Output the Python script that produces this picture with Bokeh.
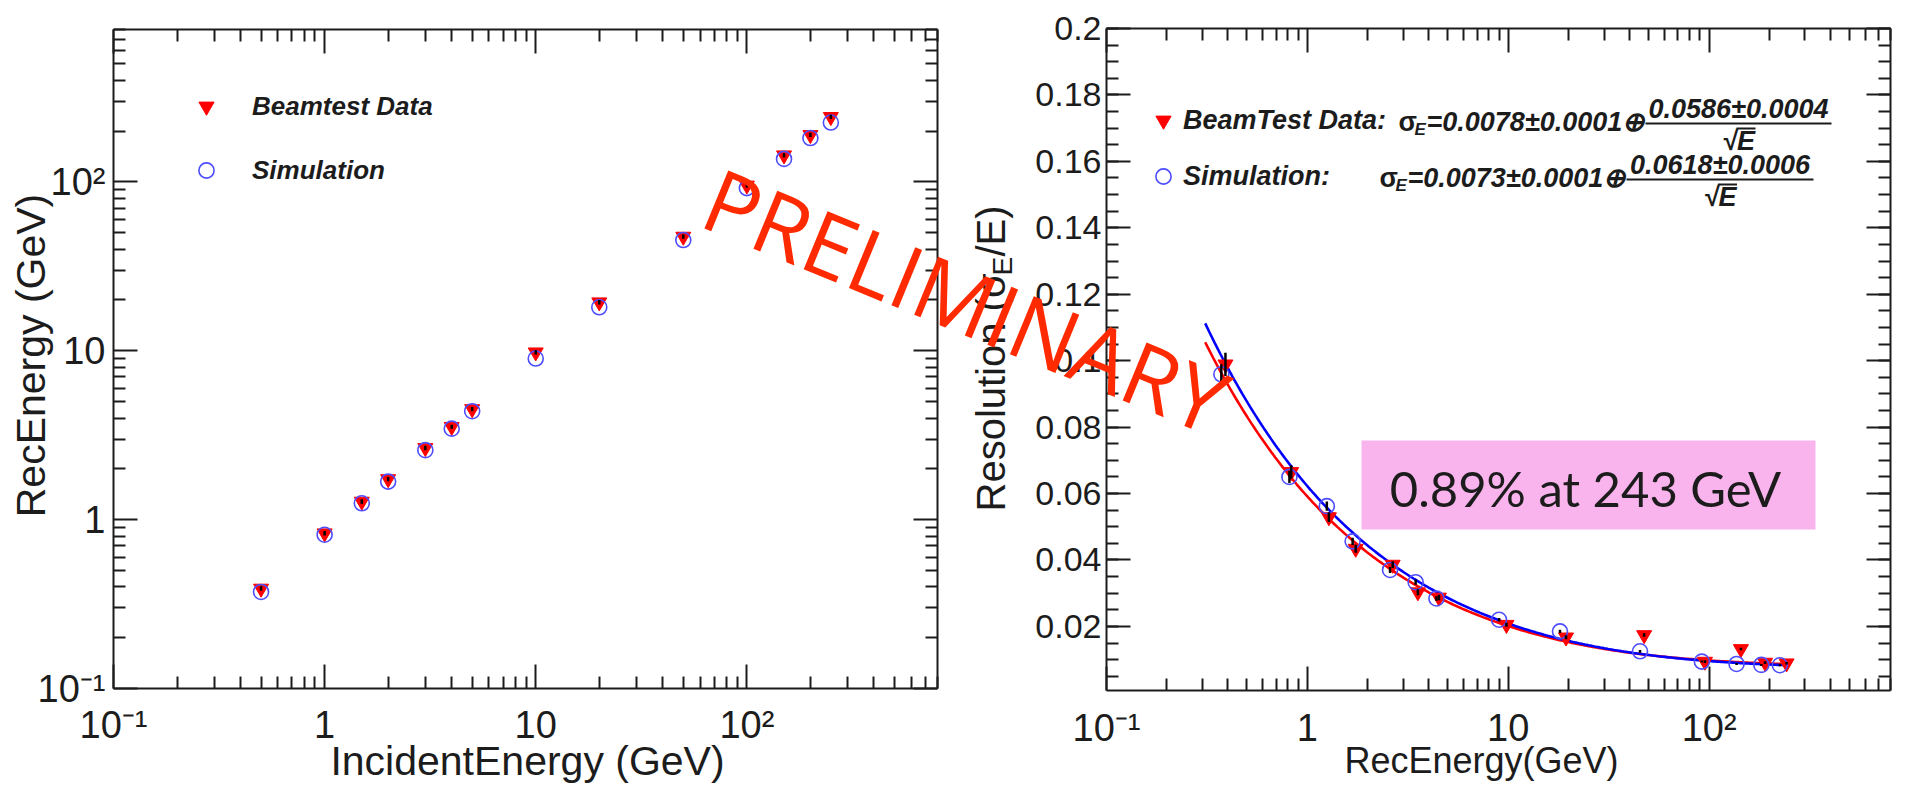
import json
import math

import numpy as np
from bokeh.embed import file_html
from bokeh.models import (BoxAnnotation, CustomJSTickFormatter, FixedTicker, Label,
                          Legend, LegendItem, LinearAxis, LogAxis, Range1d)
from bokeh.plotting import figure
from bokeh.resources import INLINE

# ---------------------------------------------------------------- measurements
incident_energy = [0.5, 1, 1.5, 2, 3, 4, 5, 10, 20, 50, 100, 150, 200, 250]

rec_energy_data = [0.391, 0.831, 1.28, 1.74, 2.66, 3.55, 4.52, 9.8, 19.4, 47.5, 95.4, 144, 190, 243]
rec_energy_data_err = [0.012, 0.025, 0.04, 0.05, 0.08, 0.1, 0.13, 0.3, 0.6, 1.4, 2.8, 4.2, 5.6, 7.0]
rec_energy_sim = [0.373, 0.814, 1.25, 1.68, 2.58, 3.46, 4.39, 9.0, 18.1, 45.3, 92, 137, 182, 225]

resolution_data = [0.0989, 0.0665, 0.0529, 0.0434, 0.0386, 0.0303, 0.0287,
                   0.0205, 0.0167, 0.0174, 0.0094, 0.0132, 0.0091, 0.0089]
resolution_data_err = [0.0035, 0.0020, 0.0015, 0.0012, 0.0010, 0.0009, 0.0008,
                       0.0006, 0.0006, 0.0005, 0.0004, 0.0004, 0.0004, 0.0004]
resolution_sim = [0.0959, 0.0650, 0.0562, 0.0456, 0.0370, 0.0333, 0.0284,
                  0.0220, 0.0185, 0.0125, 0.0094, 0.0087, 0.0084, 0.0083]
resolution_sim_err = [0.0030, 0.0018, 0.0014, 0.0011, 0.0009, 0.0008, 0.0007,
                      0.0005, 0.0005, 0.0004, 0.0003, 0.0003, 0.0003, 0.0003]

# stochastic (+) constant term fits: sigma/E = a (+) b / sqrt(E)
fit_data = {"a": 0.0078, "a_err": 0.0001, "b": 0.0586, "b_err": 0.0004}
fit_sim = {"a": 0.0073, "a_err": 0.0001, "b": 0.0618, "b_err": 0.0006}
fit_energy_span = (0.31, 245)

decade_labels = {"-1": "10\u207b\u00b9", "0": "1", "1": "10", "2": "10\u00b2"}
log_major = [0.1, 1, 10, 100]
log_minor = [m * 10.0 ** k for k in (-1, 0, 1, 2) for m in range(2, 10)]
res_major = [round(0.02 * i, 3) for i in range(1, 11)]
res_minor = [round(0.005 * i, 4) for i in range(1, 41)]

# ---------------------------------------------------------------- styling
INK = "#1c1c1c"
FONT = "Liberation Sans"
RED = "#ff0000"
BLUE = "#0000ff"
SIM_BLUE = "#4d4dff"
STAMP_RED = "#ff2a00"
H = 787
W_LEFT, W_RIGHT = 965, 940

log_fmt = CustomJSTickFormatter(code=(
    "const names = " + json.dumps(decade_labels) + ";"
    "const k = Math.round(Math.log10(tick)); return names[String(k)] || '';"))
res_fmt = CustomJSTickFormatter(code="return String(parseFloat(tick.toFixed(3)));")
blank_fmt = CustomJSTickFormatter(code="return '';")


def style_axis(ax, size=None, standoff=0):
    ax.axis_line_color = INK
    ax.axis_line_width = 2
    ax.major_tick_in = 24
    ax.major_tick_out = 0
    ax.minor_tick_in = 12
    ax.minor_tick_out = 0
    ax.major_tick_line_color = INK
    ax.minor_tick_line_color = INK
    ax.major_tick_line_width = 2
    ax.minor_tick_line_width = 2
    ax.major_label_text_font = FONT
    ax.major_label_text_color = INK
    if size is None:
        ax.formatter = blank_fmt
        ax.major_label_text_font_size = "1px"
        ax.major_label_standoff = 0
    else:
        ax.major_label_text_font_size = f"{size}px"
        ax.major_label_standoff = standoff


def base_figure(width, borders, y_type, y_range, styles=None):
    p = figure(width=width, height=H, x_axis_type="log", y_axis_type=y_type,
               x_range=Range1d(0.1, 800), y_range=y_range,
               output_backend="svg", toolbar_location=None,
               min_border_left=borders[0], min_border_right=borders[1],
               min_border_top=borders[2], min_border_bottom=borders[3],
               styles=styles or {})
    p.grid.visible = False
    p.outline_line_color = None
    p.background_fill_color = "white"
    p.border_fill_color = "white"
    return p


def legend(renderers, labels, location, spacing, standoff, size):
    return Legend(items=[LegendItem(label=t, renderers=[r]) for t, r in zip(labels, renderers)],
                  location=location, orientation="vertical",
                  glyph_width=38, glyph_height=38, label_height=38, spacing=spacing,
                  padding=0, margin=0, label_standoff=standoff,
                  border_line_color=None, background_fill_alpha=0,
                  label_text_font=FONT, label_text_font_style="bold italic",
                  label_text_font_size=f"{size}px", label_text_color=INK)


# ================================================================ left panel
p1 = base_figure(W_LEFT, (113, 28, 29, 99), "log", Range1d(0.1, 800))
p1.xaxis.ticker = FixedTicker(ticks=log_major, minor_ticks=log_minor)
p1.yaxis.ticker = FixedTicker(ticks=log_major, minor_ticks=log_minor)
p1.xaxis.formatter = log_fmt
p1.yaxis.formatter = log_fmt
style_axis(p1.xaxis[0], 38, 15)
style_axis(p1.yaxis[0], 38, 8)
for side in ("above", "right"):
    ax = LogAxis(ticker=FixedTicker(ticks=log_major, minor_ticks=log_minor))
    style_axis(ax)
    p1.add_layout(ax, side)

tri1 = p1.scatter(incident_energy, rec_energy_data, marker="inverted_triangle", size=15,
                  fill_color=RED, line_color=RED, line_width=1)
circ1 = p1.scatter(incident_energy, rec_energy_sim, marker="circle", size=15,
                   fill_color=None, line_color=SIM_BLUE, line_width=1.6)
p1.segment(x0=incident_energy,
           y0=[v - e for v, e in zip(rec_energy_data, rec_energy_data_err)],
           x1=incident_energy,
           y1=[v + e for v, e in zip(rec_energy_data, rec_energy_data_err)],
           line_color="black", line_width=2.5)
p1.add_layout(legend([tri1, circ1], ["Beamtest Data", "Simulation"], (74, 499), 26, 27, 26))

# ================================================================ right panel
p2 = base_figure(W_RIGHT, (141, 15, 28, 97), "linear", Range1d(0.0007, 0.2),
                 styles={"position": "absolute", "left": f"{W_LEFT}px", "top": "0px"})
p2.xaxis.ticker = FixedTicker(ticks=log_major, minor_ticks=log_minor)
p2.xaxis.formatter = log_fmt
p2.yaxis.ticker = FixedTicker(ticks=res_major, minor_ticks=res_minor)
p2.yaxis.formatter = res_fmt
style_axis(p2.xaxis[0], 38, 16)
style_axis(p2.yaxis[0], 34, 5)
top2 = LogAxis(ticker=FixedTicker(ticks=log_major, minor_ticks=log_minor))
right2 = LinearAxis(ticker=FixedTicker(ticks=res_major, minor_ticks=res_minor))
style_axis(top2)
style_axis(right2)
p2.add_layout(top2, "above")
p2.add_layout(right2, "right")

e_grid = np.geomspace(fit_energy_span[0], fit_energy_span[1], 300)
p2.line(e_grid, np.sqrt(fit_data["a"] ** 2 + fit_data["b"] ** 2 / e_grid),
        line_color=RED, line_width=2.6)
p2.line(e_grid, np.sqrt(fit_sim["a"] ** 2 + fit_sim["b"] ** 2 / e_grid),
        line_color=BLUE, line_width=2.6)

tri2 = p2.scatter(rec_energy_data, resolution_data, marker="inverted_triangle", size=15,
                  fill_color=RED, line_color=RED, line_width=1)
circ2 = p2.scatter(rec_energy_sim, resolution_sim, marker="circle", size=15,
                   fill_color=None, line_color=SIM_BLUE, line_width=1.6)
p2.segment(x0=rec_energy_data,
           y0=[v - e for v, e in zip(resolution_data, resolution_data_err)],
           x1=rec_energy_data,
           y1=[v + e for v, e in zip(resolution_data, resolution_data_err)],
           line_color="black", line_width=2.5)
p2.segment(x0=rec_energy_sim,
           y0=[v - e for v, e in zip(resolution_sim, resolution_sim_err)],
           x1=rec_energy_sim,
           y1=[v + e for v, e in zip(resolution_sim, resolution_sim_err)],
           line_color="black", line_width=2.5)
p2.add_layout(legend([tri2, circ2], ["BeamTest Data:", "Simulation:"], (38, 495), 18, 1, 27))

# ================================================================ page overlay
# A transparent full-page canvas (page pixels, y downwards) carries the axis
# titles, fit formulas, the callout and the stamp that runs across both panels.
ov = figure(frame_width=1905, frame_height=H, title=None,
            x_range=Range1d(0, 1905), y_range=Range1d(H, 0),
            output_backend="svg", toolbar_location=None, min_border=0,
            x_axis_location=None, y_axis_location=None,
            styles={"position": "absolute", "left": "0px", "top": "0px",
                    "z-index": "10", "pointer-events": "none"})
ov.grid.visible = False
ov.outline_line_color = None
ov.background_fill_alpha = 0
ov.border_fill_alpha = 0


def text(x, y, s, size, style="bold italic", align="left", angle=0.0, font=FONT,
         color=INK):
    ov.add_layout(Label(x=x, y=y, text=s, text_align=align, text_baseline="middle",
                        angle=angle, text_font=font, text_font_size=f"{size}px",
                        text_font_style=style, text_color=color))


def bar(x0, x1, y, thick=2):
    ov.add_layout(BoxAnnotation(left=x0, right=x1, top=y - thick / 2, bottom=y + thick / 2,
                                fill_color=INK, fill_alpha=1, line_color=None))


def fit_formula(x_sigma, y_mid, fit, frac_x0, frac_x1, y_bar):
    text(x_sigma, y_mid, "\u03c3", 27, style="bold")
    text(x_sigma + 16, y_mid + 8, "E", 17)
    text(x_sigma + 28, y_mid, f"={fit['a']:.4f}\u00b1{fit['a_err']:.4f}\u2295", 27)
    cx = (frac_x0 + frac_x1) / 2
    text(cx, y_bar - 15, f"{fit['b']:.4f}\u00b1{fit['b_err']:.4f}", 27, align="center")
    bar(frac_x0, frac_x1, y_bar)
    text(cx, y_bar + 17, "\u221aE", 27, align="center")
    bar(cx - 2, cx + 17, y_bar + 5)


# axis titles
text(30, 355, "RecEnergy (GeV)", 41, style="normal", align="center", angle=math.pi / 2)
text(527, 760, "IncidentEnergy (GeV)", 41, style="normal", align="center")
text(1481, 760, "RecEnergy(GeV)", 36, style="normal", align="center")
text(990, 511, "Resolution (\u03c3", 40, style="normal", angle=math.pi / 2)
text(1002, 275, "E", 28, style="normal", angle=math.pi / 2)
text(990, 256, "/E)", 40, style="normal", angle=math.pi / 2)

# fit results
fit_formula(1398, 121, fit_data, 1645, 1831, 123)
fit_formula(1379, 177, fit_sim, 1626, 1813, 179)

# resolution callout
ov.add_layout(BoxAnnotation(left=1361, right=1815, top=440, bottom=529,
                            fill_color="#f9b4ee", fill_alpha=1, line_color=None))
text(1585, 487, "0.89% at 243 GeV", 49, style="normal", align="center", font="Lato")

# stamp
text(966, 299, "PRELIMINARY", 88, style="normal", align="center", angle=-0.39,
     font="Open Sans", color=STAMP_RED)

with open("out.html", "w") as f:
    f.write(file_html([p1, p2, ov], INLINE))
